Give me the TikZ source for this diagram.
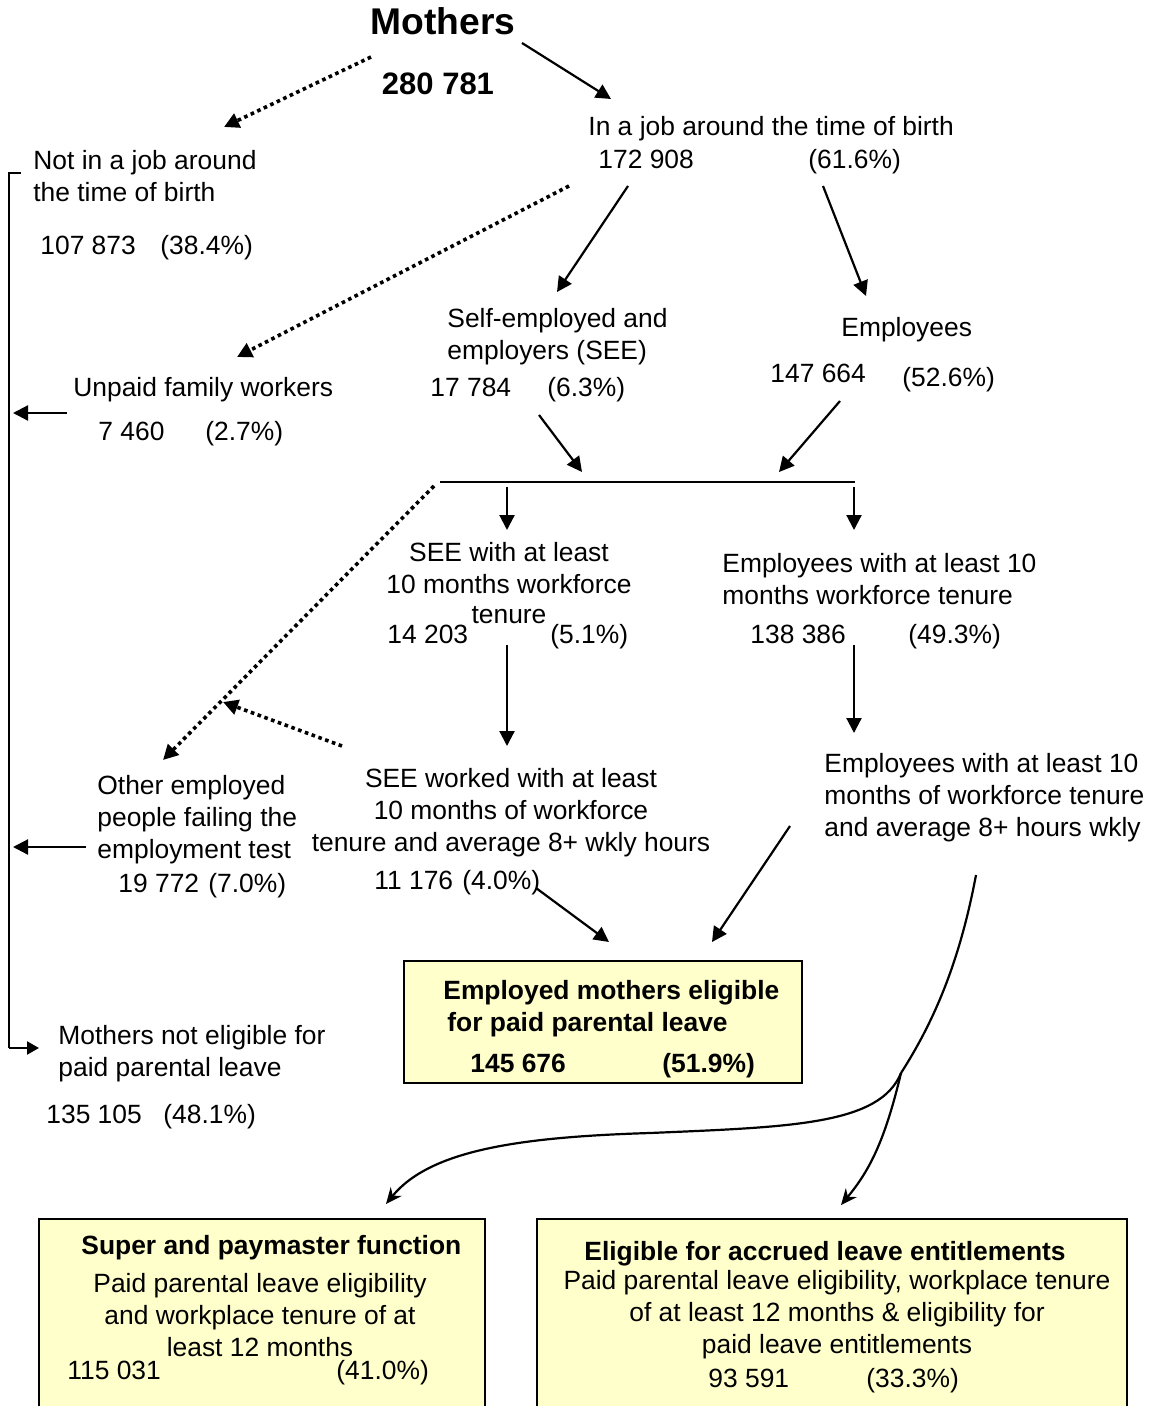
\documentclass[tikz,border=0pt]{standalone}
\usepackage{fontspec}
\setmainfont{Liberation Sans}
\usetikzlibrary{arrows.meta}
\newcommand\tlft[1]{\begin{tabular}[t]{@{}l@{}}#1\end{tabular}}
\newcommand\tctr[1]{\begin{tabular}[t]{@{}c@{}}#1\end{tabular}}
\definecolor{boxfill}{HTML}{FFFFCC}
\tikzset{
  txt/.style={inner sep=0pt, anchor=base west, font=\fontsize{13.2}{16}\selectfont},
  ctxt/.style={txt, anchor=base},
  btxt/.style={txt, font=\fontsize{13.2}{16}\selectfont\bfseries},
  arr/.style={line width=1.1pt, -{Triangle[length=7.5pt,width=7.5pt]}},
  dotarr/.style={line width=1.8pt, dash pattern=on 1.8pt off 1.8pt, -{Triangle[length=7.5pt,width=7.5pt]}},
  curvearr/.style={line width=1.1pt, -{Stealth[length=8pt,width=7pt]}},
  boxbg/.style={fill=boxfill, draw=none, inner sep=0pt, anchor=north west},
}
\begin{document}
\begin{tikzpicture}[x=0.5pt,y=-0.5pt]
\useasboundingbox[fill=white] (0,0) rectangle (1152,1406);

% ---- yellow boxes
\node[boxbg, minimum width=198.5pt, minimum height=60.5pt] (eligbox) at (404,961) {};
\draw[line width=1pt] (eligbox.south west) rectangle (eligbox.north east);
\node[boxbg, minimum width=222.5pt, minimum height=100pt] (superbox) at (39,1219) {};
\draw[line width=1pt] (superbox.south west) |- (superbox.north east) -- (superbox.south east);
\node[boxbg, minimum width=294.5pt, minimum height=100pt] (accbox) at (537,1219) {};
\draw[line width=1pt] (accbox.south west) |- (accbox.north east) -- (accbox.south east);

% ---- texts
\node[txt, anchor=base, font=\fontsize{18.6}{22}\selectfont\bfseries] (mothers) at (443,35) {Mothers};
\node[txt, anchor=base, font=\fontsize{15.5}{18}\selectfont\bfseries] (total) at (438,95) {280 781};

\node[txt] (injob) at (588,136) {In a job around the time of birth};
\node[txt] (injobn) at (598,169) {172 908};
\node[txt] (injobp) at (808,169) {(61.6\%)};

\node[txt] (notjob) at (33,170) {\tlft{Not in a job around\\the time of birth}};
\node[txt] (notjobn) at (40,255) {107 873};
\node[txt] (notjobp) at (160,255) {(38.4\%)};

\node[txt] (see) at (447,328) {\tlft{Self-employed and\\employers (SEE)}};
\node[txt] (seen) at (430,397) {17 784};
\node[txt] (seep) at (547,397) {(6.3\%)};

\node[txt] (emp) at (841,337) {Employees};
\node[txt] (empn) at (770,383) {147 664};
\node[txt] (empp) at (902,387) {(52.6\%)};

\node[txt] (unpaid) at (73,397) {Unpaid family workers};
\node[txt] (unpaidn) at (98,440) {7 460};
\node[txt] (unpaidp) at (205,440) {(2.7\%)};

\node[ctxt] (see10) at (509,561) {\tctr{SEE with at least\\10 months workforce}};
\node[ctxt] (see10t) at (509,623) {tenure};
\node[txt] (see10n) at (387,643) {14 203};
\node[txt] (see10p) at (550,643) {(5.1\%)};

\node[txt] (emp10) at (722,572) {\tlft{Employees with at least 10\\months workforce tenure}};
\node[txt] (emp10n) at (750,643) {138 386};
\node[txt] (emp10p) at (908,643) {(49.3\%)};

\node[txt] (other) at (97,794) {\tlft{Other employed\\people failing the\\employment test}};
\node[txt] (othern) at (118,892) {19 772};
\node[txt] (otherp) at (208,892) {(7.0\%)};

\node[ctxt] (see8) at (511,787) {\tctr{SEE worked with at least\\10 months of workforce\\tenure and average 8+ wkly hours}};
\node[txt] (see8n) at (374,889) {11 176};
\node[txt] (see8p) at (462,889) {(4.0\%)};

\node[txt] (emp8) at (824,772) {\tlft{Employees with at least 10\\months of workforce tenure\\and average 8+ hours wkly}};

\node[btxt] (eligt1) at (443,999) {Employed mothers eligible};
\node[btxt] (eligt2) at (447,1031) {for paid parental leave};
\node[btxt] (eligtn) at (470,1072) {145 676};
\node[btxt] (eligtp) at (662,1072) {(51.9\%)};

\node[txt] (noelig) at (58,1044) {\tlft{Mothers not eligible for\\paid parental leave}};
\node[txt] (noelign) at (46,1123) {135 105};
\node[txt] (noeligp) at (163,1123) {(48.1\%)};

\node[btxt] (supert) at (81,1254) {Super and paymaster function};
\node[ctxt] (superd) at (260,1292) {\tctr{Paid parental leave eligibility\\and workplace tenure of at\\least 12 months}};
\node[txt] (supern) at (67,1379) {115 031};
\node[txt] (superp) at (336,1379) {(41.0\%)};

\node[btxt] (acct) at (584,1260) {Eligible for accrued leave entitlements};
\node[ctxt] (accd) at (837,1289) {\tctr{Paid parental leave eligibility, workplace tenure\\of at least 12 months \& eligibility for\\paid leave entitlements}};
\node[txt] (accn) at (708,1387) {93 591};
\node[txt] (accp) at (866,1387) {(33.3\%)};

% ---- connector end points
\coordinate (c1s) at (371,57);  \coordinate (c1e) at (224,127);
\coordinate (c2s) at (522,43);  \coordinate (c2e) at (611,99);
\coordinate (c3s) at (569,186); \coordinate (c3e) at (237,357);
\coordinate (c4s) at (628,186); \coordinate (c4e) at (557,292);
\coordinate (c5s) at (823,186); \coordinate (c5e) at (866,296);
\coordinate (c6s) at (539,415); \coordinate (c6e) at (582,472);
\coordinate (c7s) at (840,401); \coordinate (c7e) at (779,472);
\coordinate (barL) at (440,482); \coordinate (barR) at (855,482);
\coordinate (d1s) at (507,487); \coordinate (d1e) at (507,530);
\coordinate (d2s) at (854,487); \coordinate (d2e) at (854,530);
\coordinate (c8s) at (434,486); \coordinate (c8e) at (163,760);
\coordinate (c9s) at (342,746); \coordinate (c9e) at (223,702);
\coordinate (d3s) at (507,645); \coordinate (d3e) at (507,746);
\coordinate (d4s) at (854,645); \coordinate (d4e) at (854,733);
\coordinate (c10s) at (536,888); \coordinate (c10e) at (609,942);
\coordinate (c11s) at (790,826); \coordinate (c11e) at (712,942);
\coordinate (br1) at (21,173); \coordinate (br2) at (9,173); \coordinate (br3) at (9,1048);
\coordinate (br4) at (39,1048);
\coordinate (u1s) at (67,413); \coordinate (u1e) at (13,413);
\coordinate (u2s) at (86,847); \coordinate (u2e) at (13,847);
\coordinate (cvs) at (976,875); \coordinate (cvb) at (901,1073);
\coordinate (cvm) at (650,1133);
\coordinate (cvl) at (386,1204); \coordinate (cvr) at (841,1205);

% ---- connectors
\draw[dotarr] (c1s) -- (c1e);
\draw[arr] (c2s) -- (c2e);
\draw[dotarr] (c3s) -- (c3e);
\draw[arr] (c4s) -- (c4e);
\draw[arr] (c5s) -- (c5e);
\draw[arr] (c6s) -- (c6e);
\draw[arr] (c7s) -- (c7e);
\draw[line width=1.1pt] (barL) -- (barR);
\draw[arr] (d1s) -- (d1e);
\draw[arr] (d2s) -- (d2e);
\draw[dotarr] (c8s) -- (c8e);
\draw[dotarr] (c9s) -- (c9e);
\draw[arr] (d3s) -- (d3e);
\draw[arr] (d4s) -- (d4e);
\draw[arr] (c10s) -- (c10e);
\draw[arr] (c11s) -- (c11e);
\draw[line width=1.1pt] (br1) -- (br2) -- (br3);
\draw[line width=1.1pt, -{Triangle[length=6pt,width=6.5pt]}] (br3) -- (br4);
\draw[arr] (u1s) -- (u1e);
\draw[arr] (u2s) -- (u2e);
\draw[line width=1.1pt] (cvs) .. controls (960,960) and (935,1020) .. (cvb);
\draw[curvearr] (cvb) .. controls (880,1125) and (790,1127) .. (cvm) .. controls (520,1137) and (430,1150) .. (cvl);
\draw[curvearr] (cvb) .. controls (885,1140) and (870,1170) .. (cvr);
\end{tikzpicture}
\end{document}
